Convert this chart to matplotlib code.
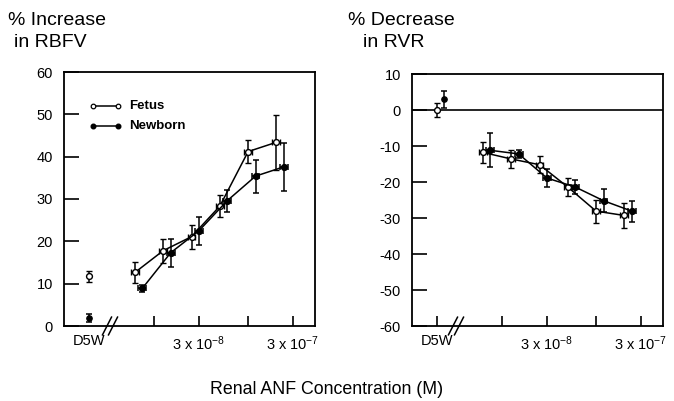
import numpy as np
import matplotlib
matplotlib.use("Agg")
import matplotlib.pyplot as plt

plt.rcParams['font.family'] = ['Liberation Sans', 'DejaVu Sans']
plt.rcParams['mathtext.fontset'] = 'custom'
plt.rcParams['mathtext.rm'] = 'Liberation Sans'
plt.rcParams['mathtext.it'] = 'Liberation Sans:italic'
plt.rcParams['mathtext.bf'] = 'Liberation Sans:bold'
plt.rcParams['axes.unicode_minus'] = False

# ---- data ----
d5w_pos = 2.04e-9  # plotting position used for the D5W (vehicle) category
fetus_conc = [6.3e-9, 1.25e-8, 2.5e-8, 5.0e-8, 1.0e-7, 2.0e-7]
newborn_conc = [7.5e-9, 1.5e-8, 3.0e-8, 6.0e-8, 1.2e-7, 2.4e-7]

# % increase in RBFV
rbfv_fetus = [12.7, 17.8, 21.1, 28.3, 41.2, 43.4]
rbfv_fetus_err = [2.5, 2.8, 2.8, 2.6, 2.7, 6.5]
rbfv_newborn = [8.9, 17.3, 22.5, 29.6, 35.4, 37.6]
rbfv_newborn_err = [0.8, 3.3, 3.3, 2.6, 3.9, 5.6]
rbfv_d5w_fetus, rbfv_d5w_fetus_err = 11.8, 1.3
rbfv_d5w_newborn, rbfv_d5w_newborn_err = 1.9, 1.0

# % decrease in RVR
rvr_fetus = [-11.8, -13.6, -15.2, -21.4, -28.1, -29.3]
rvr_fetus_err = [2.9, 2.5, 2.4, 2.4, 3.2, 3.5]
rvr_newborn = [-11.2, -12.2, -18.9, -21.4, -25.2, -28.1]
rvr_newborn_err = [4.7, 1.0, 2.4, 2.0, 3.2, 2.9]
rvr_d5w_fetus, rvr_d5w_fetus_err = 0.0, 2.0
rvr_d5w_newborn, rvr_d5w_newborn_err = 3.0, 2.4

xtick_vals = [d5w_pos, 1e-8, 3e-8, 1e-7, 3e-7]
xtick_labels = ['D5W', '', '3 x 10$^{\\mathregular{-8}}$', '', '3 x 10$^{\\mathregular{-7}}$']
xlim = (1.1e-9, 5.15e-7)

fig = plt.figure(figsize=(6.74, 4.01), dpi=100)
axL = fig.add_axes([64/674, 1-326/401, 251/674, 254/401])
axR = fig.add_axes([412/674, 1-326/401, 251/674, 252/401])

def xerr_of(c):
    c = np.asarray(c)
    return np.vstack([c - c/1.1, c*1.1 - c])

def draw(ax, yf, yfe, yn, yne, d5f, d5fe, d5n, d5ne, d5n_shift):
    ekw = dict(ecolor='black', elinewidth=1.1, capsize=2.5, capthick=1.1)
    ax.errorbar(fetus_conc, yf, yerr=yfe, xerr=xerr_of(fetus_conc), fmt='-o',
                color='black', lw=1.1, ms=4.2, mfc='white', mec='black', mew=1.0, zorder=3, **ekw)
    ax.errorbar(newborn_conc, yn, yerr=yne, xerr=xerr_of(newborn_conc), fmt='-o',
                color='black', lw=1.1, ms=4.2, mfc='black', mec='black', zorder=3, **ekw)
    ax.errorbar([d5w_pos], [d5f], yerr=[d5fe], fmt='o', color='black', ms=4.2,
                mfc='white', mec='black', mew=1.0, zorder=3, **ekw)
    ax.errorbar([d5w_pos * d5n_shift], [d5n], yerr=[d5ne], fmt='o', color='black', ms=3.8,
                mfc='black', mec='black', zorder=3, **ekw)
    ax.set_xscale('log')
    ax.set_xlim(*xlim)
    ax.xaxis.set_minor_locator(matplotlib.ticker.NullLocator())
    ax.set_xticks(xtick_vals)
    ax.set_xticklabels(xtick_labels)
    ax.tick_params(axis='x', direction='in', length=7, width=1.2, pad=6, labelsize=10.5)
    ax.tick_params(axis='y', direction='in', length=10.5, width=1.2, pad=8, labelsize=10.5,
                   right=False)
    for s in ax.spines.values():
        s.set_linewidth(1.3)
        s.set_color('black')

draw(axL, rbfv_fetus, rbfv_fetus_err, rbfv_newborn, rbfv_newborn_err,
     rbfv_d5w_fetus, rbfv_d5w_fetus_err, rbfv_d5w_newborn, rbfv_d5w_newborn_err, 1.0)
draw(axR, rvr_fetus, rvr_fetus_err, rvr_newborn, rvr_newborn_err,
     rvr_d5w_fetus, rvr_d5w_fetus_err, rvr_d5w_newborn, rvr_d5w_newborn_err, 1.18)

axL.set_ylim(0, 60)
axL.set_yticks(np.arange(0, 61, 10))
axL.xaxis.get_major_ticks()[0].tick1line.set_visible(False)

axR.set_ylim(-60, 10)
axR.set_yticks(np.arange(-60, 11, 10))
axR.axhline(0, color='black', lw=1.2, zorder=1)

# break marks "//" on the bottom spines (in axes fraction coordinates)
def break_marks(ax, xfrac):
    for dx in (-0.012, 0.012):
        ax.plot([xfrac + dx - 0.018, xfrac + dx + 0.018], [-0.035, 0.035],
                transform=ax.transAxes, color='black', lw=1.1, clip_on=False, zorder=5)

break_marks(axL, (110 - 64) / 251)
break_marks(axR, (456 - 412) / 251)

# legend (drawn as text + sample markers)
yF, yN = 0.866, 0.787
axL.plot([0.115, 0.215], [yF, yF], transform=axL.transAxes, color='black', lw=1.1)
axL.plot([0.115, 0.215], [yF, yF], 'o', transform=axL.transAxes, ms=3.3,
         mfc='white', mec='black', mew=0.9)
axL.text(0.26, yF, 'Fetus', transform=axL.transAxes, fontsize=9.5, fontweight='bold',
         va='center', ha='left')
axL.plot([0.115, 0.215], [yN, yN], transform=axL.transAxes, color='black', lw=1.1)
axL.plot([0.115, 0.215], [yN, yN], 'o', transform=axL.transAxes, ms=3.3,
         mfc='black', mec='black')
axL.text(0.26, yN, 'Newborn', transform=axL.transAxes, fontsize=9.5, fontweight='bold',
         va='center', ha='left')

# titles (two lines each)
fig.text(8/674, 1-25/401, '% Increase', fontsize=14, ha='left', va='baseline')
fig.text(14/674, 1-47/401, 'in RBFV', fontsize=14, ha='left', va='baseline')
fig.text(348/674, 1-25/401, '% Decrease', fontsize=14, ha='left', va='baseline')
fig.text(363/674, 1-47/401, 'in RVR', fontsize=14, ha='left', va='baseline')

fig.text(327/674, 1-390/401, 'Renal ANF Concentration (M)', fontsize=12.8,
         ha='center', va='center')

fig.savefig('out.png', dpi=100)
